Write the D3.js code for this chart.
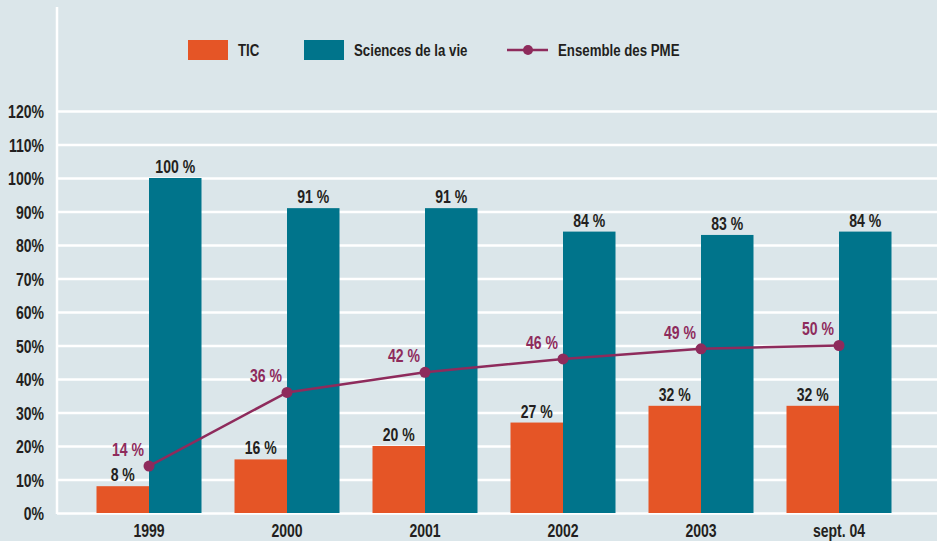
<!DOCTYPE html>
<html>
<head>
<meta charset="utf-8">
<script src="https://cdn.jsdelivr.net/npm/d3@7"></script>
<style>
  body { margin: 0; background: #dbe6ea; }
  svg { display: block; font-family: "Liberation Sans", Arial, sans-serif; font-weight: bold; }
  .axis text { fill: #231f20; font-size: 18px; }
</style>
</head>
<body>
<div id="chart"></div>
<script>
// data
var categories = ["1999", "2000", "2001", "2002", "2003", "sept. 04"];
var ticValues = [8, 16, 20, 27, 32, 32];
var scienceValues = [100, 91, 91, 84, 83, 84];
var pmeValues = [14, 36, 42, 46, 49, 50];
var yTicks = [0, 10, 20, 30, 40, 50, 60, 70, 80, 90, 100, 110, 120];
var seriesNames = ["TIC", "Sciences de la vie", "Ensemble des PME"];

var width = 937, height = 541;
var margin = {left: 57, bottom: 513, top: 111};

var colors = {tic: "#e55526", sci: "#00748b", pme: "#8e2b5c", text: "#231f20", grid: "#ffffff"};

// the original uses a condensed face, squeeze text horizontally around its anchor
var squeeze = 0.78;
function condense(sel) {
  sel.each(function() {
    var t = d3.select(this);
    var tx = +t.attr("x") || 0;
    t.attr("transform", "translate(" + tx + ",0) scale(" + squeeze + ",1) translate(" + (-tx) + ",0)");
  });
}

var svg = d3.select("#chart").append("svg")
    .attr("width", width)
    .attr("height", height);

svg.append("rect")
    .attr("width", width)
    .attr("height", height)
    .attr("fill", "#dbe6ea");

var x = d3.scaleBand()
    .domain(categories)
    .range([80, 908]);

var y = d3.scaleLinear()
    .domain([0, 120])
    .range([margin.bottom, margin.top]);

var barW = 52.5;

// y axis + white grid lines
var yAxis = svg.append("g")
    .attr("class", "axis")
    .attr("transform", "translate(" + margin.left + ",0)")
    .call(d3.axisLeft(y)
        .tickValues(yTicks)
        .tickSize(-(width - margin.left))
        .tickPadding(13)
        .tickFormat(function(d) { return d + "%"; }));
yAxis.select(".domain").remove();
yAxis.selectAll("line")
    .attr("stroke", colors.grid)
    .attr("stroke-width", 2.5);
yAxis.selectAll("text").attr("dy", "0.38em").call(condense);

// vertical axis line
svg.append("line")
    .attr("x1", margin.left).attr("x2", margin.left)
    .attr("y1", 7).attr("y2", margin.bottom + 1)
    .attr("stroke", colors.grid)
    .attr("stroke-width", 2.5);

// x axis labels
var xAxis = svg.append("g")
    .attr("class", "axis")
    .attr("transform", "translate(0," + margin.bottom + ")")
    .call(d3.axisBottom(x).tickSize(0).tickPadding(11));
xAxis.select(".domain").remove();
xAxis.selectAll("text").call(condense);

// bars
var bars = svg.append("g");
bars.selectAll(".tic")
    .data(ticValues)
    .enter().append("rect")
      .attr("class", "tic")
      .attr("x", function(d, i) { return x(categories[i]) + x.bandwidth() / 2 - barW; })
      .attr("y", function(d) { return y(d); })
      .attr("width", barW)
      .attr("height", function(d) { return y(0) - y(d); })
      .attr("fill", colors.tic);

bars.selectAll(".sci")
    .data(scienceValues)
    .enter().append("rect")
      .attr("class", "sci")
      .attr("x", function(d, i) { return x(categories[i]) + x.bandwidth() / 2; })
      .attr("y", function(d) { return y(d); })
      .attr("width", barW)
      .attr("height", function(d) { return y(0) - y(d); })
      .attr("fill", colors.sci);

// bar labels
var labels = svg.append("g")
    .style("font-size", "18px")
    .attr("fill", colors.text)
    .attr("text-anchor", "middle");
labels.selectAll(".ticLbl")
    .data(ticValues)
    .enter().append("text")
      .attr("x", function(d, i) { return x(categories[i]) + x.bandwidth() / 2 - barW / 2; })
      .attr("y", function(d) { return y(d) - 5; })
      .text(function(d) { return d + " %"; });
labels.selectAll(".sciLbl")
    .data(scienceValues)
    .enter().append("text")
      .attr("x", function(d, i) { return x(categories[i]) + x.bandwidth() / 2 + barW / 2; })
      .attr("y", function(d) { return y(d) - 5; })
      .text(function(d) { return d + " %"; });
labels.selectAll("text").call(condense);

// line for all SMEs
var line = d3.line()
    .x(function(d, i) { return x(categories[i]) + x.bandwidth() / 2; })
    .y(function(d) { return y(d); });

svg.append("path")
    .datum(pmeValues)
    .attr("d", line)
    .attr("fill", "none")
    .attr("stroke", colors.pme)
    .attr("stroke-width", 2.5);

svg.selectAll(".dot")
    .data(pmeValues)
    .enter().append("circle")
      .attr("cx", function(d, i) { return x(categories[i]) + x.bandwidth() / 2; })
      .attr("cy", function(d) { return y(d); })
      .attr("r", 5.5)
      .attr("fill", colors.pme);

svg.append("g")
    .style("font-size", "18px")
    .attr("fill", colors.pme)
    .attr("text-anchor", "middle")
    .selectAll("text")
    .data(pmeValues)
    .enter().append("text")
      .attr("x", function(d, i) { return x(categories[i]) + x.bandwidth() / 2 - 21; })
      .attr("y", function(d) { return y(d) - 10; })
      .text(function(d) { return d + " %"; })
      .call(condense);

// legend
var legend = svg.append("g")
    .style("font-size", "17px")
    .attr("fill", colors.text);

legend.append("rect")
    .attr("x", 188).attr("y", 40)
    .attr("width", 40).attr("height", 20)
    .attr("fill", colors.tic);
legend.append("text")
    .attr("x", 238).attr("y", 56.5)
    .text(seriesNames[0]);

legend.append("rect")
    .attr("x", 304).attr("y", 40)
    .attr("width", 40).attr("height", 20)
    .attr("fill", colors.sci);
legend.append("text")
    .attr("x", 354).attr("y", 56.5)
    .text(seriesNames[1]);

legend.append("line")
    .attr("x1", 507).attr("x2", 548)
    .attr("y1", 50).attr("y2", 50)
    .attr("stroke", colors.pme)
    .attr("stroke-width", 2.5);
legend.append("circle")
    .attr("cx", 528).attr("cy", 50).attr("r", 5)
    .attr("fill", colors.pme);
legend.append("text")
    .attr("x", 558).attr("y", 56.5)
    .text(seriesNames[2]);
legend.selectAll("text").call(condense);
</script>
</body>
</html>
